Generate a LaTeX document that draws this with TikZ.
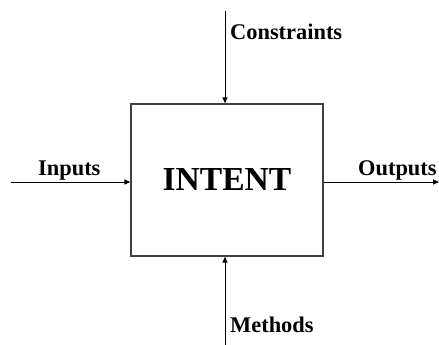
\documentclass[tikz,border=0pt]{standalone}
\usepackage{fontspec}
\setmainfont{Liberation Serif}
\usetikzlibrary{arrows.meta}
\begin{document}
\begin{tikzpicture}[x=1pt,y=1pt,
  flow/.style={line width=0.9pt,-{Triangle[length=6pt,width=5pt]}},
  lbl/.style={inner sep=0pt,font=\bfseries\fontsize{22.4}{26}\selectfont},
  func/.style={draw=black!75,line width=1.3pt,minimum width=192pt,minimum height=152pt,inner sep=0pt,
    font=\bfseries\fontsize{33.6}{38}\selectfont}]
\useasboundingbox (0,0) rectangle (439,345);
\node[func] (box) at (227,165) {INTENT};
\coordinate (inS) at (11,163);
\coordinate (outE) at (439,163);
\coordinate (conS) at (225,334);
\coordinate (metS) at (225,0);
\draw[flow] (inS) -- (inS -| box.west);
\draw[flow] (outE -| box.east) -- (outE);
\draw[flow] (conS) -- (conS |- box.north);
\draw[flow] (metS) -- (metS |- box.south);
\node[lbl,anchor=base west] (in) at (38,169) {Inputs};
\node[lbl,anchor=base west] (out) at (358,169) {Outputs};
\node[lbl,anchor=base west] (con) at (230,305) {Constraints};
\node[lbl,anchor=base west] (met) at (230,12) {Methods};
\end{tikzpicture}
\end{document}
